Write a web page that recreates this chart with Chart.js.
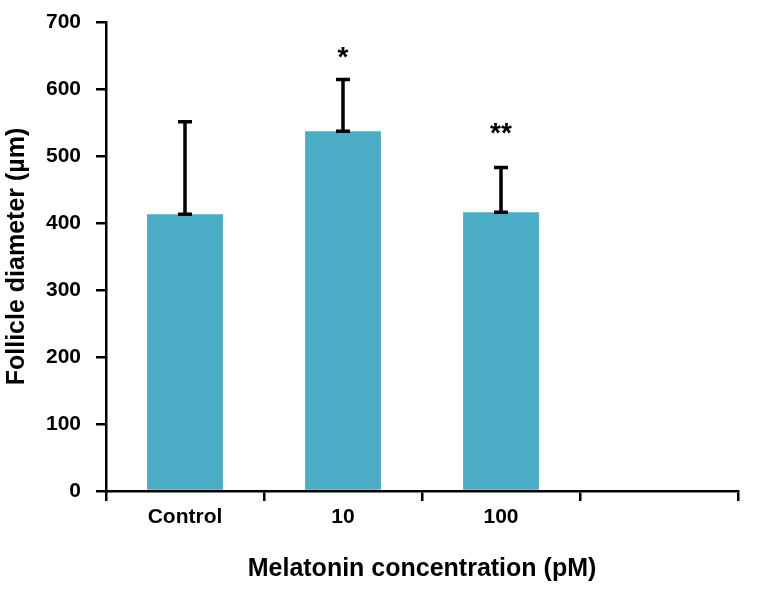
<!DOCTYPE html>
<html>
<head>
<meta charset="utf-8">
<script src="https://cdn.jsdelivr.net/npm/chart.js@4"></script>
<style>
  html, body { margin: 0; padding: 0; background: #fff; }
  #wrap { width: 771px; height: 590px; }
</style>
</head>
<body>
<div id="wrap"><canvas id="chart" width="771" height="590"></canvas></div>
<script>
// ---------- Data ----------
const categories = ['Control', '10', '100', ''];
const diameters = [413, 537, 416, null];
const errors = [138, 77, 67, null];
const sigMarks = ['', '*', '**', ''];
const sigLevels = [null, 655, 541, null];
const yTicks = [0, 100, 200, 300, 400, 500, 600, 700];

const FONT = '"Liberation Sans", Arial, Helvetica, sans-serif';

// error bars drawn upward from mean, caps at both ends
const errorBarPlugin = {
    id: 'errorBars',
    afterDatasetsDraw(chart) {
        const ctx = chart.ctx;
        const meta = chart.getDatasetMeta(0);
        const y = chart.scales.y;
        ctx.save();
        ctx.strokeStyle = '#000';
        ctx.lineWidth = 3.5;
        meta.data.forEach((bar, i) => {
            if (diameters[i] == null) return;
            const x = bar.x;
            const y0 = y.getPixelForValue(diameters[i]);
            const y1 = y.getPixelForValue(diameters[i] + errors[i]);
            ctx.beginPath();
            ctx.moveTo(x, y0);
            ctx.lineTo(x, y1);
            ctx.moveTo(x - 7, y1);
            ctx.lineTo(x + 7, y1);
            ctx.moveTo(x - 7, y0);
            ctx.lineTo(x + 7, y0);
            ctx.stroke();
        });

        // significance stars
        ctx.fillStyle = '#000';
        ctx.font = 'bold 28px ' + FONT;
        ctx.textAlign = 'center';
        ctx.textBaseline = 'middle';
        meta.data.forEach((bar, i) => {
            if (!sigMarks[i]) return;
            ctx.fillText(sigMarks[i], bar.x, y.getPixelForValue(sigLevels[i]) + 6);
        });
        ctx.restore();
    }
};

new Chart(document.getElementById('chart'), {
    type: 'bar',
    data: {
        labels: categories,
        datasets: [{
            data: diameters,
            backgroundColor: 'rgb(75, 172, 198)',
            borderWidth: 0,
            categoryPercentage: 1,
            barPercentage: 0.48
        }]
    },
    options: {
        responsive: false,
        animation: false,
        layout: { padding: { top: 22, right: 33, left: 0, bottom: 0 } },
        plugins: {
            legend: { display: false },
            tooltip: { enabled: false }
        },
        scales: {
            x: {
                afterFit: scale => { scale.height = 99; },
                grid: {
                    offset: true,
                    drawOnChartArea: false,
                    color: '#000',
                    lineWidth: 2.5,
                    tickLength: 10
                },
                border: { color: '#000', width: 2.5 },
                ticks: {
                    color: '#000',
                    padding: 4,
                    font: { family: FONT, size: 21, weight: 'bold' }
                },
                title: {
                    display: true,
                    text: 'Melatonin concentration (pM)',
                    color: '#000',
                    padding: { top: 4, bottom: 6 },
                    font: { family: FONT, size: 25, weight: 'bold' }
                }
            },
            y: {
                min: 0,
                max: 700,
                afterFit: scale => {
                    scale.width = 106;
                    scale.paddingTop = 0;
                    scale.paddingBottom = 0;
                },
                afterBuildTicks: scale => { scale.ticks = yTicks.map(v => ({ value: v })); },
                grid: {
                    drawOnChartArea: false,
                    color: '#000',
                    lineWidth: 2.5,
                    tickLength: 10
                },
                border: { color: '#000', width: 2.5 },
                ticks: {
                    color: '#000',
                    padding: 15,
                    font: { family: FONT, size: 21, weight: 'bold' }
                },
                title: {
                    display: true,
                    text: 'Follicle diameter (µm)',
                    color: '#000',
                    padding: { top: 2, bottom: 4 },
                    font: { family: FONT, size: 25, weight: 'bold' }
                }
            }
        }
    },
    plugins: [errorBarPlugin]
});
</script>
</body>
</html>
